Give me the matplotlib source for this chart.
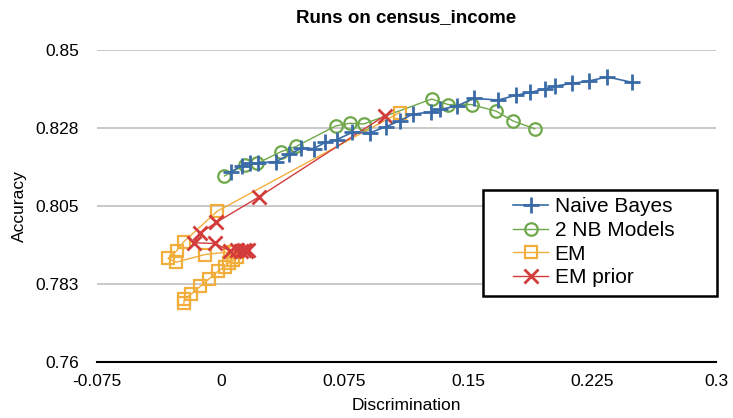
import matplotlib
matplotlib.use("Agg")
import matplotlib.pyplot as plt
from matplotlib.patches import Rectangle

plt.rcParams['font.family'] = ['Liberation Sans', 'DejaVu Sans']

nb_x = [0.0062, 0.0129, 0.0180, 0.0224, 0.0335, 0.0414, 0.0488, 0.0563, 0.0634, 0.0705,
        0.0797, 0.0907, 0.1001, 0.1083, 0.1163, 0.1275, 0.1331, 0.1432, 0.1533, 0.1680,
        0.1789, 0.1876, 0.1963, 0.2023, 0.2128, 0.2232, 0.2340, 0.2492]
nb_y = [0.8149, 0.8167, 0.8173, 0.8175, 0.8178, 0.8199, 0.8217, 0.8216, 0.8234, 0.8242,
        0.8263, 0.8262, 0.8279, 0.8296, 0.8315, 0.8322, 0.8329, 0.8339, 0.8361, 0.8356,
        0.8370, 0.8378, 0.8388, 0.8396, 0.8404, 0.8411, 0.8423, 0.8407]

nb2_x = [0.0022, 0.0145, 0.0220, 0.0365, 0.0456, 0.0695, 0.0780, 0.0866, 0.1278, 0.1377,
         0.1519, 0.1668, 0.1769, 0.1902]
nb2_y = [0.8137, 0.8168, 0.8173, 0.8207, 0.8222, 0.8281, 0.8289, 0.8287, 0.8359, 0.8343,
         0.8343, 0.8324, 0.8296, 0.8273]

em_x = [0.1084, -0.0022, -0.0224, -0.0267, -0.0319, -0.0271, -0.0097, 0.0055, 0.0088, 0.0097,
        0.0076, 0.0047, 0.0026, -0.0016, -0.0073, -0.0125, -0.0181, -0.0221, -0.0224]
em_y = [0.8320, 0.8035, 0.7947, 0.7921, 0.7899, 0.7888, 0.7910, 0.7918, 0.7918, 0.7904,
        0.7894, 0.7885, 0.7875, 0.7862, 0.7839, 0.7818, 0.7795, 0.7781, 0.7769]

emp_x = [0.0994, 0.0230, -0.0027, -0.0127, -0.0164, -0.0036, 0.0055, 0.0097, 0.0121, 0.0139,
         0.0151, 0.0164]
emp_y = [0.8311, 0.8076, 0.8003, 0.7971, 0.7944, 0.7942, 0.7921, 0.7922, 0.7920, 0.7923,
         0.7920, 0.7922]

yticks = [0.76, 0.7825, 0.805, 0.8275, 0.85]
ytick_labels = ['0.76', '0.783', '0.805', '0.828', '0.85']
xticks = [-0.075, 0, 0.075, 0.15, 0.225, 0.3]
xtick_labels = ['-0.075', '0', '0.075', '0.15', '0.225', '0.3']

blue = '#3a6ba8'
green = '#6fa84a'
orange = '#f2ae3c'
red = '#d23c3a'

fig = plt.figure(figsize=(7.33, 4.18), dpi=100)
ax = fig.add_axes([0.1323, 0.134, 0.8445, 0.746])

ax.plot(nb_x, nb_y, color=blue, lw=1.2, marker='+', ms=11, mew=2, label='Naive Bayes', zorder=4)
ax.plot(nb2_x, nb2_y, color=green, lw=1.0, marker='o', ms=9, mew=1.6, mfc='none', label='2 NB Models', zorder=3)
ax.plot(em_x, em_y, color=orange, lw=1.0, marker='s', ms=9, mew=1.6, mfc='none', label='EM', zorder=3)
ax.plot(emp_x, emp_y, color=red, lw=1.0, marker='x', ms=10, mew=2, label='EM prior', zorder=3)

ax.set_xlim(-0.075, 0.3)
ax.set_ylim(0.76, 0.85)
ax.set_yticks(yticks)
ax.set_yticklabels(ytick_labels)
ax.set_xticks(xticks)
ax.set_xticklabels(xtick_labels)
ax.tick_params(axis='both', length=0, labelsize=12.5)
ax.tick_params(axis='y', pad=13)
ax.tick_params(axis='x', pad=9)
ax.yaxis.grid(True, color='#c4c4c4', lw=1.3)
ax.set_axisbelow(True)
for s in ['left', 'right', 'top']:
    ax.spines[s].set_visible(False)
ax.spines['bottom'].set_color('black')
ax.spines['bottom'].set_linewidth(1.5)
ax.spines['bottom'].set_zorder(5)

ax.set_title('Runs on census_income', fontsize=13.5, fontweight='bold', pad=20)
ax.set_xlabel('Discrimination', fontsize=12.5, labelpad=6)
ax.set_ylabel('Accuracy', fontsize=12.5, labelpad=6)

# legend box
box = Rectangle((0.6236, 0.2115), 0.378, 0.3398, transform=ax.transAxes,
                facecolor='white', edgecolor='black', lw=1.8, zorder=6, clip_on=False)
ax.add_patch(box)
leg = ax.legend(loc='center left', bbox_to_anchor=(0.672, 0.384), borderaxespad=0,
                borderpad=0, fontsize=15, frameon=False, labelspacing=0.22,
                handlelength=1.7, handletextpad=0.3)
leg.set_zorder(7)

fig.savefig('out.png', dpi=100)
